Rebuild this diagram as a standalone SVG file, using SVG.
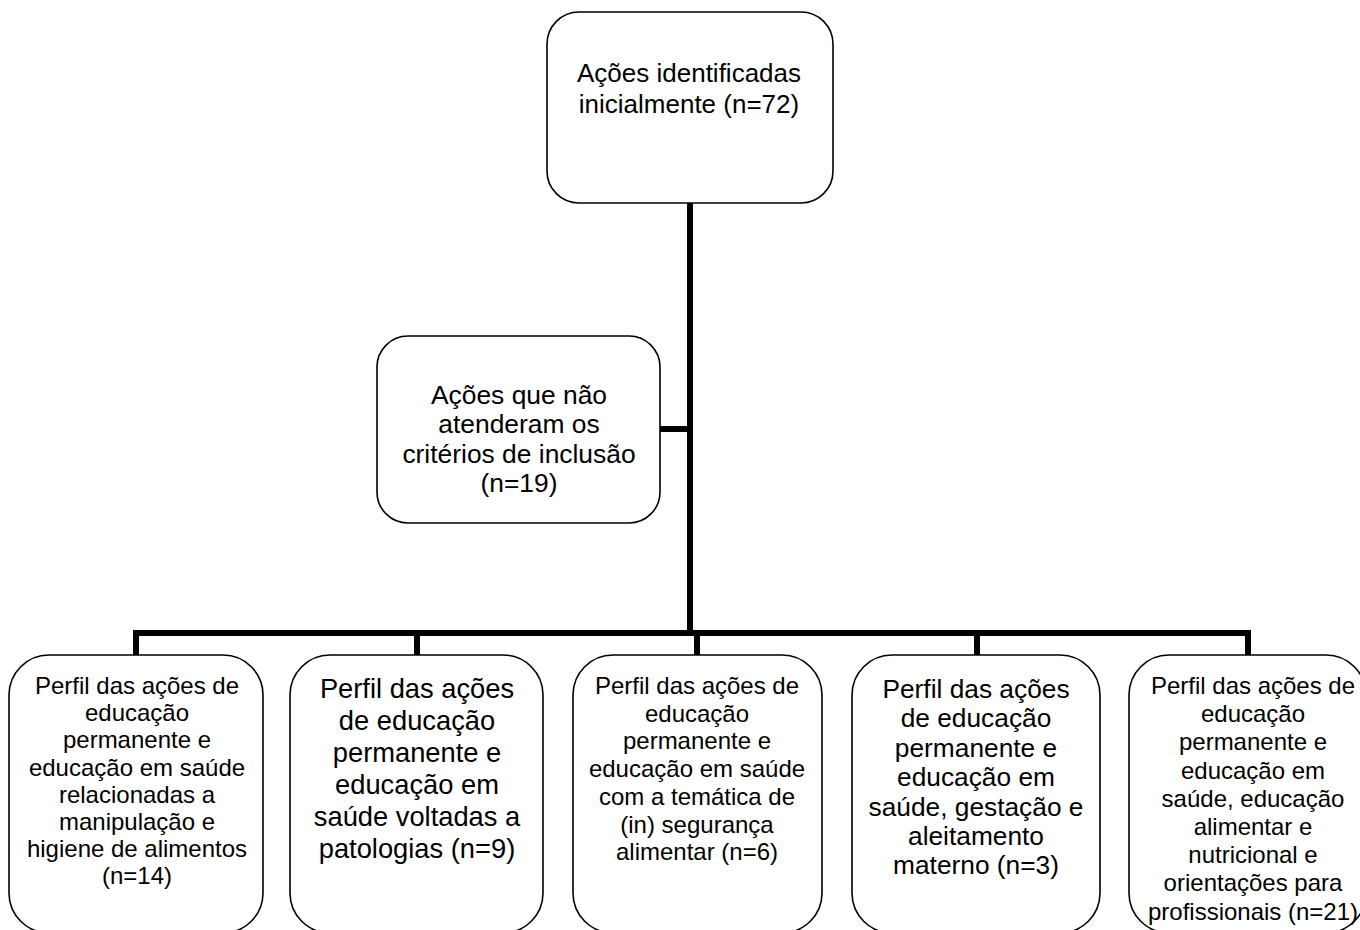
<svg xmlns="http://www.w3.org/2000/svg" width="1360" height="930" viewBox="0 0 1360 930">
<style>
.box{fill:#fff;stroke:#000;stroke-width:1.6}
.conn{stroke:#000;stroke-width:6;fill:none;stroke-linecap:butt}
text{font-family:"Liberation Sans",Arial,sans-serif;fill:#000;text-anchor:middle}
</style>
<rect width="1360" height="930" fill="#fff"/>
<g id="connectors">
<line class="conn" x1="690" y1="203" x2="690" y2="636"/>
<line class="conn" x1="660" y1="429" x2="690" y2="429"/>
<line class="conn" x1="133" y1="633" x2="1251" y2="633"/>
<line class="conn" x1="136" y1="633" x2="136" y2="655"/>
<line class="conn" x1="417" y1="633" x2="417" y2="655"/>
<line class="conn" x1="697" y1="633" x2="697" y2="655"/>
<line class="conn" x1="977" y1="633" x2="977" y2="655"/>
<line class="conn" x1="1248" y1="633" x2="1248" y2="655"/>
</g>
<g id="n_top">
<rect class="box" x="547" y="12" width="286" height="191" rx="32"/>
<text font-size="26" x="689" y="82">Ações identificadas<tspan x="689" dy="30.5">inicialmente (n=72)</tspan></text>
</g>
<g id="n_excluded">
<rect class="box" x="377" y="336" width="283" height="187" rx="31"/>
<text font-size="26.4" x="519" y="404">Ações que não<tspan x="519" dy="29.3">atenderam os</tspan><tspan x="519" dy="29.3">critérios de inclusão</tspan><tspan x="519" dy="29.3">(n=19)</tspan></text>
</g>
<g id="n_b1">
<rect class="box" x="9" y="655" width="254" height="278" rx="40"/>
<text font-size="24" x="137" y="694">Perfil das ações de<tspan x="137" dy="27.2">educação</tspan><tspan x="137" dy="27.2">permanente e</tspan><tspan x="137" dy="27.2">educação em saúde</tspan><tspan x="137" dy="27.2">relacionadas a</tspan><tspan x="137" dy="27.2">manipulação e</tspan><tspan x="137" dy="27.2">higiene de alimentos</tspan><tspan x="137" dy="27.2">(n=14)</tspan></text>
</g>
<g id="n_b2">
<rect class="box" x="290" y="655" width="253" height="278" rx="40"/>
<text font-size="27.3" x="417" y="698">Perfil das ações<tspan x="417" dy="32">de educação</tspan><tspan x="417" dy="32">permanente e</tspan><tspan x="417" dy="32">educação em</tspan><tspan x="417" dy="32">saúde voltadas a</tspan><tspan x="417" dy="32">patologias (n=9)</tspan></text>
</g>
<g id="n_b3">
<rect class="box" x="573" y="655" width="249" height="278" rx="40"/>
<text font-size="24" x="697" y="694">Perfil das ações de<tspan x="697" dy="27.7">educação</tspan><tspan x="697" dy="27.7">permanente e</tspan><tspan x="697" dy="27.7">educação em saúde</tspan><tspan x="697" dy="27.7">com a temática de</tspan><tspan x="697" dy="27.7">(in) segurança</tspan><tspan x="697" dy="27.7">alimentar (n=6)</tspan></text>
</g>
<g id="n_b4">
<rect class="box" x="852" y="655" width="248" height="278" rx="40"/>
<text font-size="26.3" x="976" y="698">Perfil das ações<tspan x="976" dy="29.4">de educação</tspan><tspan x="976" dy="29.4">permanente e</tspan><tspan x="976" dy="29.4">educação em</tspan><tspan x="976" dy="29.4">saúde, gestação e</tspan><tspan x="976" dy="29.4">aleitamento</tspan><tspan x="976" dy="29.4">materno (n=3)</tspan></text>
</g>
<g id="n_b5">
<rect class="box" x="1129" y="655" width="237" height="278" rx="40"/>
<text font-size="24" x="1253" y="694">Perfil das ações de<tspan x="1253" dy="28.2">educação</tspan><tspan x="1253" dy="28.2">permanente e</tspan><tspan x="1253" dy="28.2">educação em</tspan><tspan x="1253" dy="28.2">saúde, educação</tspan><tspan x="1253" dy="28.2">alimentar e</tspan><tspan x="1253" dy="28.2">nutricional e</tspan><tspan x="1253" dy="28.2">orientações para</tspan><tspan x="1253" dy="28.2">profissionais (n=21)</tspan></text>
</g>
</svg>
